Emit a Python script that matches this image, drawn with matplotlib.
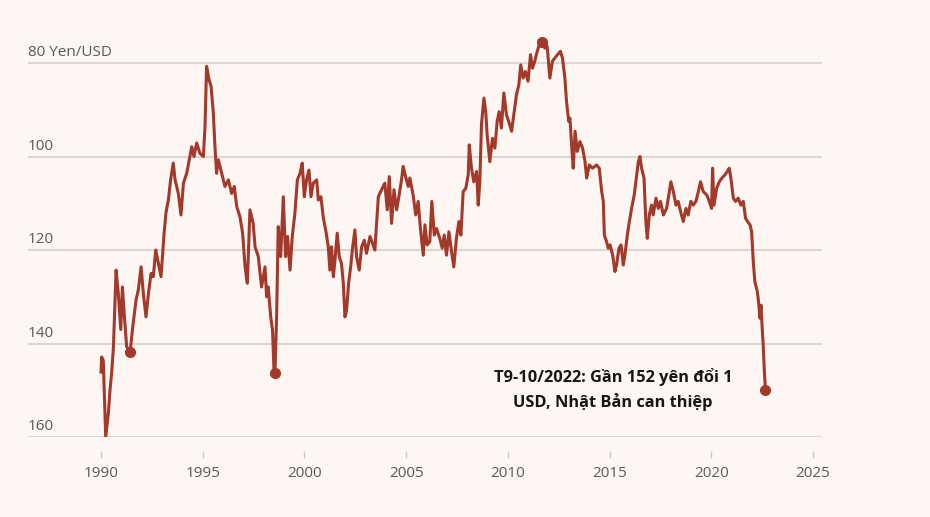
import matplotlib.pyplot as plt
from matplotlib import transforms

# Yen per USD
years = [
    1990.00, 1990.03, 1990.11, 1990.23, 1990.36, 1990.44, 1990.52, 1990.61, 1990.74, 1990.85,
    1990.97, 1991.05, 1991.15, 1991.26, 1991.43, 1991.56, 1991.72, 1991.83, 1991.97, 1992.08,
    1992.21, 1992.33, 1992.46, 1992.57, 1992.69, 1992.82, 1992.95, 1993.03, 1993.10, 1993.19,
    1993.31, 1993.42, 1993.55, 1993.64, 1993.80, 1993.93, 1994.05, 1994.21, 1994.34, 1994.46,
    1994.57, 1994.70, 1994.86, 1995.03, 1995.11, 1995.19, 1995.31, 1995.41, 1995.52, 1995.60,
    1995.68, 1995.77, 1995.93, 1996.09, 1996.26, 1996.42, 1996.55, 1996.67, 1996.83, 1996.96,
    1997.08, 1997.19, 1997.32, 1997.48, 1997.57, 1997.73, 1997.89, 1998.06, 1998.14, 1998.22,
    1998.34, 1998.43, 1998.50, 1998.55, 1998.63, 1998.71, 1998.83, 1998.96, 1999.07, 1999.17,
    1999.29, 1999.40, 1999.53, 1999.65, 1999.78, 1999.89, 1999.99, 2000.10, 2000.22, 2000.32,
    2000.43, 2000.60, 2000.68, 2000.81, 2000.92, 2001.07, 2001.17, 2001.25, 2001.33, 2001.42,
    2001.50, 2001.61, 2001.71, 2001.82, 2001.91, 2001.99, 2002.07, 2002.17, 2002.27, 2002.37,
    2002.48, 2002.56, 2002.69, 2002.81, 2002.94, 2003.05, 2003.22, 2003.35, 2003.46, 2003.63,
    2003.79, 2003.95, 2004.07, 2004.17, 2004.28, 2004.40, 2004.53, 2004.64, 2004.77, 2004.85,
    2004.97, 2005.10, 2005.18, 2005.34, 2005.47, 2005.59, 2005.70, 2005.84, 2005.92, 2006.03,
    2006.16, 2006.26, 2006.38, 2006.49, 2006.65, 2006.77, 2006.87, 2006.98, 2007.10, 2007.23,
    2007.34, 2007.47, 2007.59, 2007.69, 2007.80, 2007.93, 2008.05, 2008.10, 2008.21, 2008.32,
    2008.46, 2008.54, 2008.62, 2008.70, 2008.82, 2008.91, 2008.98, 2009.11, 2009.24, 2009.36,
    2009.47, 2009.57, 2009.68, 2009.80, 2009.93, 2010.04, 2010.18, 2010.29, 2010.42, 2010.54,
    2010.63, 2010.75, 2010.86, 2010.99, 2011.11, 2011.21, 2011.32, 2011.44, 2011.57, 2011.70,
    2011.81, 2011.93, 2012.06, 2012.19, 2012.31, 2012.44, 2012.58, 2012.68, 2012.80, 2012.88,
    2012.99, 2013.05, 2013.13, 2013.21, 2013.30, 2013.41, 2013.54, 2013.67, 2013.79, 2013.87,
    2014.00, 2014.16, 2014.36, 2014.49, 2014.61, 2014.69, 2014.74, 2014.85, 2014.93, 2015.02,
    2015.15, 2015.26, 2015.34, 2015.46, 2015.56, 2015.67, 2015.75, 2015.87, 2015.97, 2016.08,
    2016.21, 2016.33, 2016.41, 2016.49, 2016.57, 2016.69, 2016.78, 2016.85, 2016.95, 2017.06,
    2017.14, 2017.28, 2017.39, 2017.50, 2017.64, 2017.80, 2017.91, 2018.01, 2018.13, 2018.26,
    2018.37, 2018.49, 2018.62, 2018.75, 2018.86, 2018.99, 2019.11, 2019.24, 2019.36, 2019.47,
    2019.60, 2019.77, 2019.90, 2020.01, 2020.06, 2020.13, 2020.26, 2020.39, 2020.52, 2020.67,
    2020.78, 2020.88, 2020.96, 2021.08, 2021.19, 2021.32, 2021.45, 2021.57, 2021.68, 2021.78,
    2021.90, 2021.98, 2022.06, 2022.14, 2022.26, 2022.32, 2022.39, 2022.44, 2022.50, 2022.55,
    2022.60, 2022.66,
]
yen = [
    146.1, 142.9, 143.6, 160.0, 155.0, 150.0, 146.4, 140.7, 124.3, 129.3,
    137.0, 127.9, 134.3, 140.7, 141.8, 136.4, 130.7, 128.6, 123.6, 129.3,
    134.3, 129.3, 125.0, 125.7, 120.0, 122.9, 125.7, 120.7, 116.4, 112.1,
    109.3, 105.0, 101.4, 105.0, 107.9, 112.5, 105.7, 103.6, 100.7, 97.9,
    100.0, 97.1, 99.3, 100.0, 93.6, 80.7, 83.6, 85.0, 90.7, 97.9,
    103.6, 100.7, 103.6, 106.4, 105.0, 107.9, 106.4, 110.7, 112.9, 116.4,
    123.6, 127.1, 111.4, 114.3, 119.3, 121.4, 127.9, 123.6, 130.0, 127.9,
    134.3, 137.1, 145.7, 146.4, 134.3, 115.0, 121.4, 108.6, 121.4, 117.1,
    124.3, 117.1, 112.1, 105.0, 103.6, 101.4, 108.6, 105.0, 102.9, 108.6,
    105.7, 105.0, 109.3, 108.6, 112.9, 116.4, 119.3, 124.3, 119.3, 125.7,
    122.1, 116.4, 121.4, 122.9, 127.1, 134.3, 132.9, 127.1, 123.6, 119.3,
    115.7, 121.4, 124.3, 119.3, 117.9, 120.7, 117.1, 118.6, 120.0, 108.6,
    107.1, 105.7, 111.4, 104.3, 114.3, 107.1, 111.4, 108.6, 105.0, 102.1,
    104.3, 106.4, 104.6, 108.2, 112.5, 109.6, 115.4, 121.1, 114.6, 118.9,
    118.2, 109.6, 116.8, 115.4, 117.5, 119.6, 116.8, 121.1, 116.1, 120.4,
    123.6, 117.5, 113.9, 116.8, 107.5, 106.8, 103.9, 97.5, 102.5, 105.4,
    103.2, 110.4, 105.4, 93.2, 87.5, 90.4, 95.4, 101.1, 96.1, 98.2,
    92.5, 90.4, 93.9, 86.4, 91.1, 92.5, 94.6, 91.1, 86.8, 84.6,
    80.4, 83.2, 81.8, 83.9, 78.2, 81.1, 79.6, 77.5, 75.7, 75.4,
    76.8, 76.4, 83.2, 79.6, 78.9, 78.2, 77.5, 78.9, 83.2, 88.2,
    92.5, 91.8, 97.5, 102.5, 94.6, 98.9, 96.8, 98.2, 101.1, 104.6,
    101.8, 102.5, 101.8, 102.5, 107.5, 109.6, 116.8, 118.2, 119.6, 118.9,
    121.1, 124.6, 123.2, 119.6, 118.9, 123.2, 121.1, 116.8, 113.9, 111.1,
    108.2, 103.9, 101.1, 100.0, 102.5, 104.6, 113.9, 117.5, 112.5, 110.4,
    112.5, 108.9, 111.1, 109.6, 112.5, 111.1, 108.2, 105.4, 107.5, 110.4,
    109.6, 111.8, 113.9, 111.1, 112.5, 109.6, 110.4, 109.6, 107.5, 105.4,
    107.5, 108.2, 109.6, 111.1, 102.5, 110.4, 106.8, 105.4, 104.6, 103.9,
    103.2, 102.5, 104.6, 108.9, 109.6, 108.9, 110.4, 109.6, 113.2, 113.9,
    114.6, 116.1, 122.5, 126.8, 128.9, 131.1, 134.6, 131.8, 136.8, 140.4,
    145.4, 150.0,
]

# highlighted points
mark_years = [1991.43, 1998.55, 2011.70, 2022.66]
mark_yen = [141.8, 146.4, 75.4, 150.0]

y_ticks = [80, 100, 120, 140, 160]
y_labels = ['80 Yen/USD', '100', '120', '140', '160']
x_ticks = [1990, 1995, 2000, 2005, 2010, 2015, 2020, 2025]

note = 'T9-10/2022: Gần 152 yên đổi 1\nUSD, Nhật Bản can thiệp'

bg = '#fdf6f3'
red = '#a2392a'
grid_col = '#dcd6d2'

plt.rcParams['font.family'] = ['Open Sans', 'DejaVu Sans']

fig = plt.figure(figsize=(9.3, 5.17), dpi=100, facecolor=bg)
ax = fig.add_axes([0.0301, 0.1547, 0.8538, 0.7776], facecolor=bg)

ax.plot(years, yen, color=red, linewidth=2.2)
ax.plot(mark_years, mark_yen, 'o', color=red, markersize=7)

ax.set_xlim(1986.41, 2025.44)
ax.set_ylim(160, 74)

# horizontal gridlines with labels sitting just above them
for v in y_ticks:
    ax.axhline(v, color=grid_col, linewidth=1.5, zorder=0)
trans = transforms.blended_transform_factory(ax.transAxes, ax.transData)
for v, lab in zip(y_ticks, y_labels):
    ax.text(0.0, v - 0.6, lab, transform=trans, ha='left', va='bottom',
            fontsize=11, color='#5a5a5a')

ax.set_yticks([])
ax.set_xticks(x_ticks)
ax.set_xticklabels([str(t) for t in x_ticks])
ax.tick_params(axis='x', length=5, width=1, color='#cfc9c5', pad=6,
               labelsize=11, labelcolor='#5a5a5a')
for s in ['top', 'right', 'left']:
    ax.spines[s].set_visible(False)
ax.spines['bottom'].set_position(('outward', 10))
ax.spines['bottom'].set_visible(False)

ax.text(2015.16, 149.8, note, ha='center', va='center', fontsize=11.8,
        fontweight='bold', color='#161616', linespacing=1.5)

fig.savefig('out.png', dpi=100, facecolor=bg)
